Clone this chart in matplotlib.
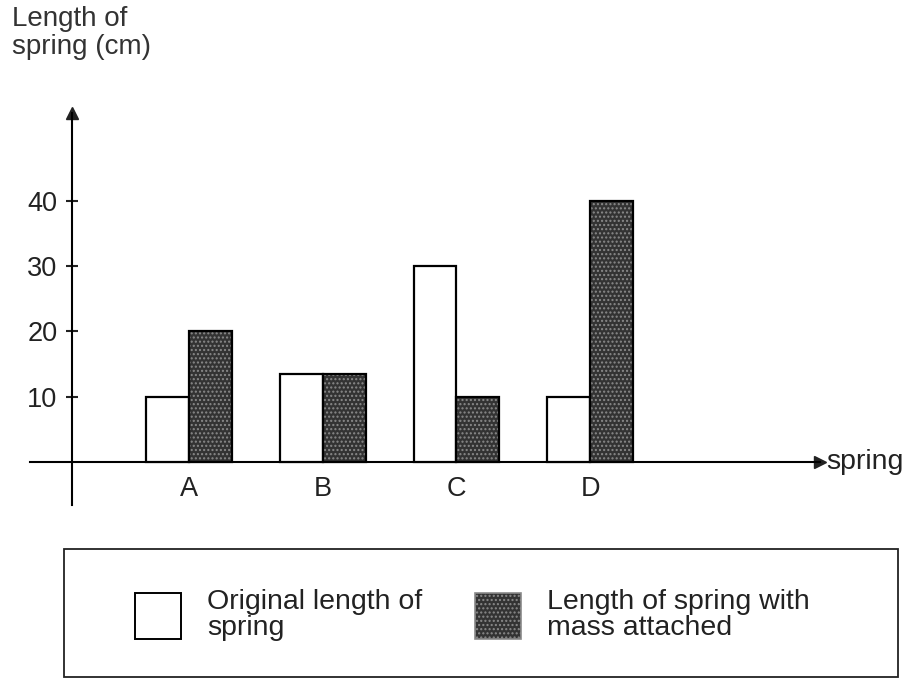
import matplotlib
matplotlib.use("Agg")
import matplotlib.pyplot as plt
import numpy as np
from matplotlib.patches import Patch, Rectangle

springs = ["A", "B", "C", "D"]
original_cm = [10, 13.5, 30, 10]
with_mass_cm = [20, 13.5, 10, 40]
y_ticks = [10, 20, 30, 40]

W, H = 908, 679
plt.rcParams["font.family"] = ["Liberation Sans", "DejaVu Sans"]
fig = plt.figure(figsize=(W / 100, H / 100), dpi=100)

# axes box in pixel terms (x-axis runs 30..820, y-axis 113..505)
ax = fig.add_axes([30 / W, (H - 505) / H, (820 - 30) / W, (505 - 113) / H])
ax.set_xlim(-1.19, 4.72)
ax.set_ylim(-6.6, 53.4)

x = np.arange(len(springs))
w = 0.32
dark = "#333333"
ink = "#222222"

ax.bar(x - w / 2, original_cm, w, color="white", edgecolor="black", linewidth=1.6, zorder=3)
ax.bar(x + w / 2, with_mass_cm, w, color=dark, edgecolor="#8a8a8a", hatch="....", linewidth=0, zorder=3)
ax.bar(x + w / 2, with_mass_cm, w, fill=False, edgecolor="black", linewidth=1.6, zorder=4)

y_axis_x = -0.877
for s in ("top", "right"):
    ax.spines[s].set_visible(False)
ax.spines["bottom"].set_position(("data", 0))
ax.spines["left"].set_position(("data", y_axis_x))
ax.spines["bottom"].set_linewidth(1.5)
ax.spines["left"].set_linewidth(1.5)

ax.plot(1, 0, ">", color=ink, markersize=9, transform=ax.get_yaxis_transform(), clip_on=False)
ax.plot(y_axis_x, 1, "^", color=ink, markersize=8, transform=ax.get_xaxis_transform(), clip_on=False)

ax.set_xticks(x, springs)
ax.set_yticks(y_ticks)
ax.tick_params(axis="x", length=0, pad=10, labelsize=19.5, colors=ink)
ax.tick_params(axis="y", direction="inout", length=9, width=1.5, pad=6, labelsize=19.5, colors=ink)

ax.text(1.008, 0, "spring", transform=ax.get_yaxis_transform(), va="center", ha="left",
        fontsize=20.5, color=ink)

fig.text(12 / W, 1 - 6 / H, "Length of\nspring (cm)", ha="left", va="top", fontsize=20,
         color="#333333", linespacing=1.1)

# legend box
fig.patches.append(Rectangle((64 / W, 2 / H), (898 - 64) / W, (677 - 549) / H, transform=fig.transFigure,
                             fill=False, edgecolor=ink, linewidth=1.3))
handles = [
    Patch(facecolor="white", edgecolor="black", linewidth=1.4, label="Original length of\nspring"),
    Patch(facecolor=dark, edgecolor="#8a8a8a", hatch="....", linewidth=1.2, label="Length of spring with\nmass attached"),
]
leg = fig.legend(handles=handles, loc="center left", bbox_to_anchor=(135 / W, 1 - 615 / H), ncol=2,
                 frameon=False, fontsize=20.5, handlelength=1.61, handleheight=2.1, handletextpad=0.91,
                 columnspacing=1.86, borderpad=0, borderaxespad=0, labelcolor=ink)
for t in leg.get_texts():
    t.set_linespacing(1.0)

fig.savefig("out.png", dpi=100)
